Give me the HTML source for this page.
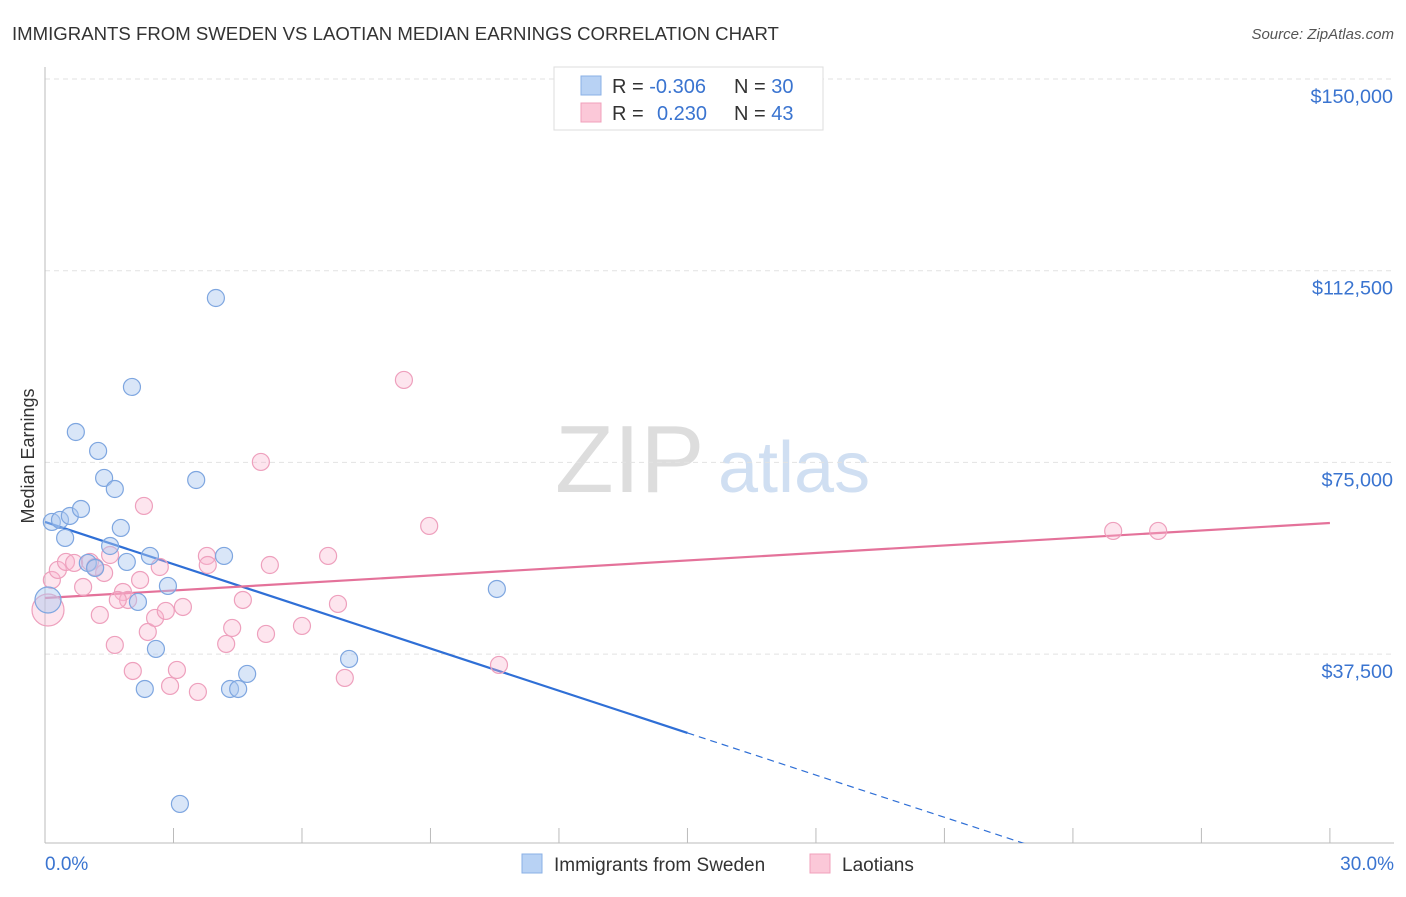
<!DOCTYPE html>
<html><head><meta charset="utf-8"><style>
body{margin:0;background:#fff;font-family:"Liberation Sans",sans-serif;}
svg text{font-family:"Liberation Sans",sans-serif;}
</style></head><body>
<svg id="chart" width="1406" height="892" xmlns="http://www.w3.org/2000/svg">
<text x="12" y="40" font-size="18.6" fill="#333">IMMIGRANTS FROM SWEDEN VS LAOTIAN MEDIAN EARNINGS CORRELATION CHART</text>
<text x="1394" y="39" font-size="15" fill="#555" text-anchor="end" font-style="italic">Source: ZipAtlas.com</text>
<text x="34" y="456" font-size="18" fill="#333" text-anchor="middle" transform="rotate(-90 34 456)">Median Earnings</text>
<text x="555" y="492" font-size="96" fill="#ddd" font-family="Liberation Serif">ZIP</text>
<text x="718" y="492" font-size="72" fill="#d0dff2">atlas</text>
<defs><clipPath id="plotclip"><rect x="0" y="0" width="1406" height="843"/></clipPath></defs>
<g id="grid"></g><g id="axes"></g><g id="lines" clip-path="url(#plotclip)"></g><g id="pts"></g>
<g>
<rect x="554" y="67" width="269" height="63" fill="#fff" stroke="#ddd"/>
<rect x="581" y="76" width="20" height="19" fill="#b8d2f4" stroke="#8ab0e6"/>
<rect x="581" y="103" width="20" height="19" fill="#fbc8d8" stroke="#f0a0bb"/>
<text x="612" y="93" font-size="20" fill="#333">R = <tspan fill="#3a74d0">-0.306</tspan></text>
<text x="734" y="93" font-size="20" fill="#333">N = <tspan fill="#3a74d0">30</tspan></text>
<text x="612" y="120" font-size="20" fill="#333">R = <tspan fill="#3a74d0" x="657">0.230</tspan></text>
<text x="734" y="120" font-size="20" fill="#333">N = <tspan fill="#3a74d0">43</tspan></text>
</g>
<g>
<rect x="522" y="854" width="20" height="19" fill="#b8d2f4" stroke="#8ab0e6"/>
<text x="554" y="871" font-size="19" fill="#333">Immigrants from Sweden</text>
<rect x="810" y="854" width="20" height="19" fill="#fbc8d8" stroke="#f0a0bb"/>
<text x="842" y="871" font-size="19" fill="#333">Laotians</text>
</g>
</svg>
<script>
const yTicks=[150000,112500,75000,37500];
const yTickLabels=["$150,000","$112,500","$75,000","$37,500"];
const xTicks=[0,3,6,9,12,15,18,21,24,27,30];
const xEndLabels=["0.0%","30.0%"];
const swedenX=[0.16,0.35,0.58,0.84,0.47,0.72,1.24,1.38,1.63,1.77,1.0,1.17,1.52,1.91,2.03,2.45,2.87,2.17,2.59,2.33,3.15,3.99,3.53,4.18,4.32,4.51,4.72,7.1,10.55,0.07];
const swedenY=[63350,63740,64520,65890,60220,80950,77240,71960,69800,62180,55330,54350,58650,55530,89760,56700,50830,47700,38510,30680,8190,107160,71560,56700,30680,30680,33620,36550,50240,48090];
const laoX=[0.07,0.16,0.3,0.49,0.68,0.89,1.05,1.28,1.38,1.52,1.63,1.82,1.94,2.05,2.22,2.31,2.4,2.57,2.68,2.82,2.92,3.08,3.22,3.57,3.78,3.8,4.23,4.37,4.62,5.04,5.16,5.25,6.0,6.61,6.84,7.0,8.38,8.97,10.6,24.94,25.99,1.17,1.7];
const laoY=[46130,52000,53960,55530,55330,50630,55530,45160,53370,56890,39290,49650,48090,34200,52000,66480,41830,44570,54540,45940,31270,34400,46720,30100,56700,54930,39490,42620,48090,75090,41440,54930,43010,56700,47310,32840,91130,62570,35380,61590,61590,54540,48090];
const swedenTrend=[63350,-2751];
const laoTrend=[48480,489];
const NS="http://www.w3.org/2000/svg";
const X=p=>45+p*42.83;
const Y=v=>79+(150000-v)/37500*191.7;
function mk(t,a,parent){const e=document.createElementNS(NS,t);for(const k in a)e.setAttribute(k,a[k]);document.getElementById(parent).appendChild(e);return e;}
yTicks.forEach((v,i)=>{
 const l=mk('line',{x1:45,x2:1394,y1:Y(v),y2:Y(v),stroke:'#e2e2e2','stroke-dasharray':'5,4'},'grid');
 
 
 const t=mk('text',{x:1393,y:Y(v)+24,'font-size':19.8,fill:'#3a74d0','text-anchor':'end'},'grid');
 t.textContent=yTickLabels[i];
 
 
});
const ax=mk('line',{x1:45,x2:45,y1:67,y2:843,stroke:'#bbb'},'axes');


const bx=mk('line',{x1:45,x2:1394,y1:843,y2:843,stroke:'#bbb'},'axes');


xTicks.forEach(p=>{const t=mk('line',{x1:X(p),x2:X(p),y1:828,y2:843,stroke:'#bbb'},'axes');
 
 });
[[0,'start',45],[1,'end',1394]].forEach(([i,a,x])=>{const t=mk('text',{x:x,y:870,'font-size':19,fill:'#3a74d0','text-anchor':a},'axes');t.textContent=xEndLabels[i];
 
 });
const bEnd=15, bZero=-swedenTrend[0]/swedenTrend[1];
const bl=mk('line',{x1:X(0),y1:Y(swedenTrend[0]),x2:X(bEnd),y2:Y(swedenTrend[0]+swedenTrend[1]*bEnd),stroke:'#2f6fd6','stroke-width':2.2},'lines');


const bd=mk('line',{x1:X(bEnd),y1:Y(swedenTrend[0]+swedenTrend[1]*bEnd),x2:X(bZero),y2:Y(0),stroke:'#2f6fd6','stroke-width':1.2,'stroke-dasharray':'7,5'},'lines');


const pl=mk('line',{x1:X(0),y1:Y(laoTrend[0]),x2:X(30),y2:Y(laoTrend[0]+laoTrend[1]*30),stroke:'#e4729a','stroke-width':2.2},'lines');


laoX.forEach((p,i)=>{const c=mk('circle',{cx:X(p),cy:Y(laoY[i]),r:i==0?16:8.5,fill:'rgba(248,180,205,0.35)',stroke:'#eea0bd','stroke-width':1.2},'pts');
 
 });
swedenX.forEach((p,i)=>{const c=mk('circle',{cx:X(p),cy:Y(swedenY[i]),r:i==29?13:8.5,fill:'rgba(170,200,240,0.45)',stroke:'#7ea6e0','stroke-width':1.2},'pts');
 
 });
</script>
</body></html>
